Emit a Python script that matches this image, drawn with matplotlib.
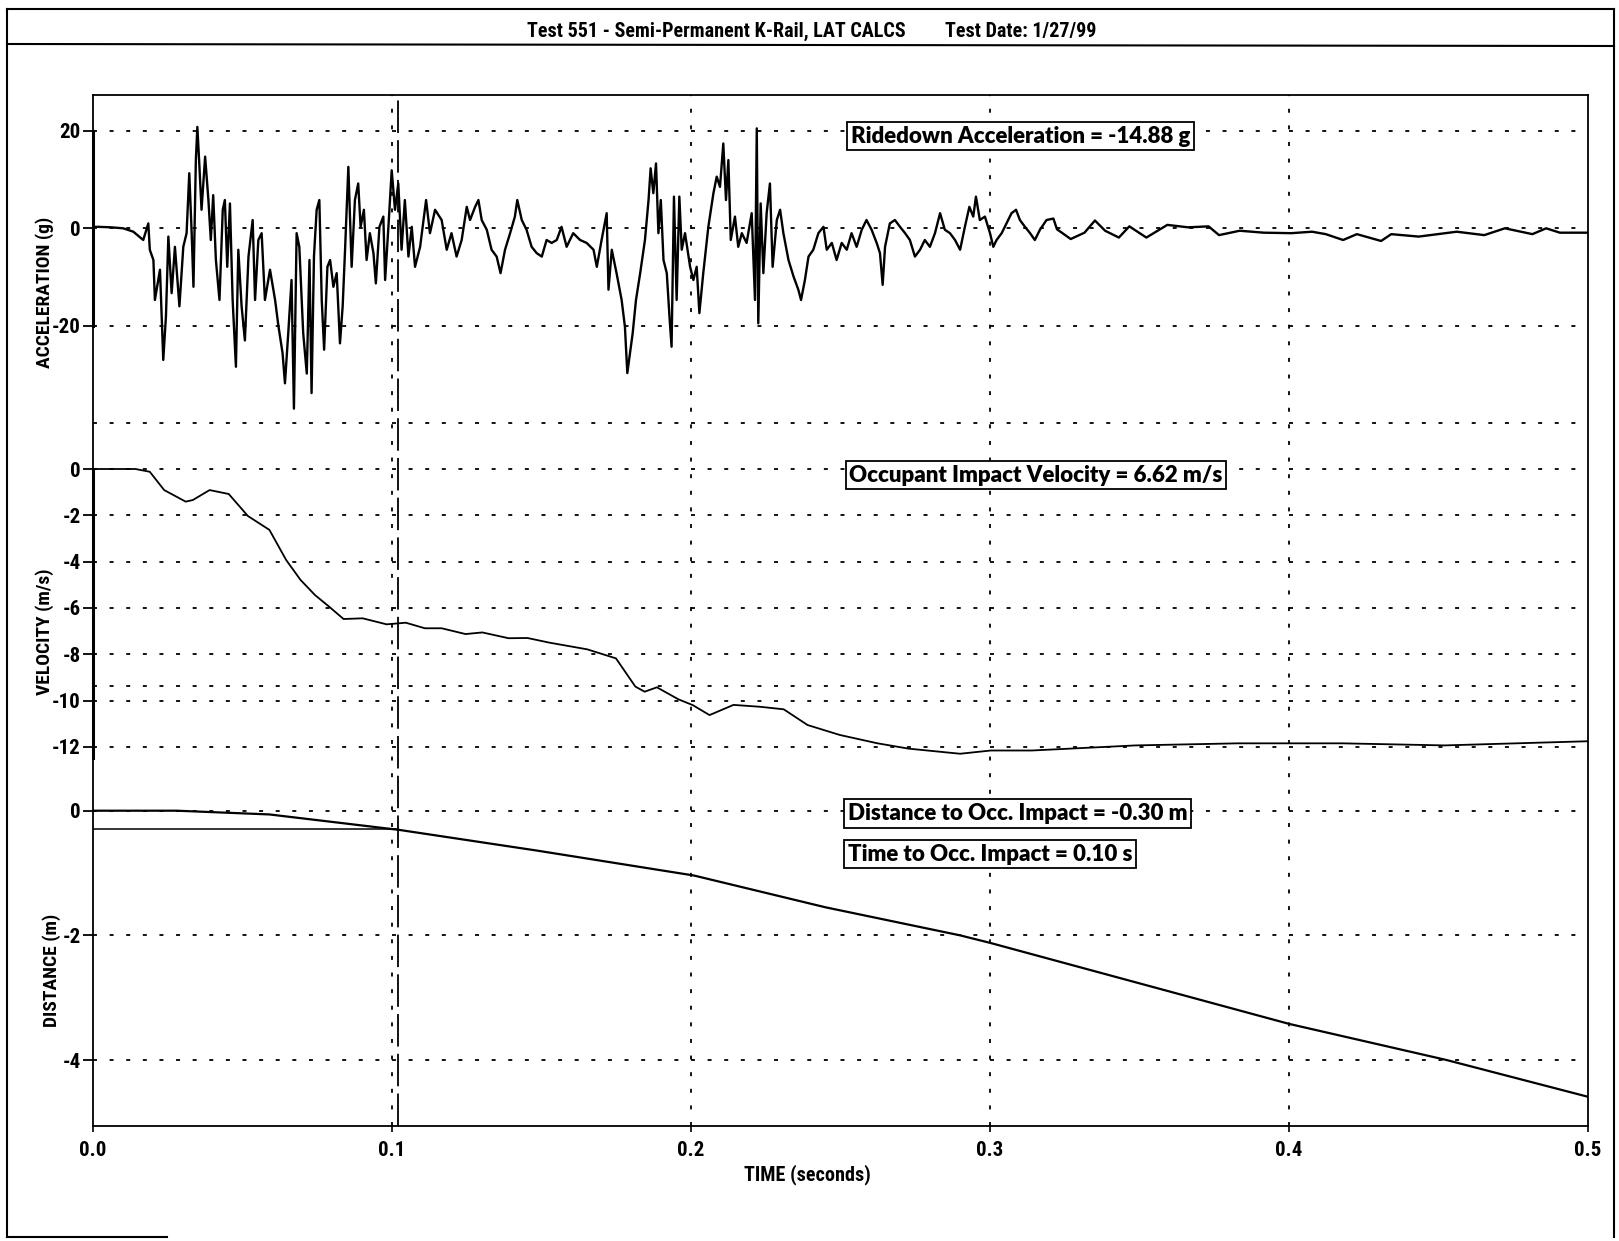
import numpy as np
import matplotlib

matplotlib.use("Agg")
import matplotlib.pyplot as plt

plt.rcParams["font.family"] = ["Liberation Sans Narrow", "Roboto Condensed", "DejaVu Sans"]
plt.rcParams["font.stretch"] = "condensed"
plt.rcParams["font.weight"] = "bold"

# --- data ---
accel_t = [0.0000, 0.0018, 0.0060, 0.0101, 0.0135, 0.0168, 0.0185, 0.0190, 0.0202, 0.0207,
           0.0224, 0.0235, 0.0244, 0.0252, 0.0263, 0.0274, 0.0289, 0.0302, 0.0313, 0.0322,
           0.0330, 0.0336, 0.0344, 0.0349, 0.0356, 0.0363, 0.0375, 0.0386, 0.0394, 0.0402,
           0.0411, 0.0423, 0.0434, 0.0441, 0.0449, 0.0458, 0.0467, 0.0478, 0.0486, 0.0497,
           0.0508, 0.0520, 0.0534, 0.0542, 0.0553, 0.0564, 0.0575, 0.0592, 0.0609, 0.0620,
           0.0634, 0.0642, 0.0653, 0.0664, 0.0672, 0.0681, 0.0690, 0.0703, 0.0715, 0.0724,
           0.0731, 0.0739, 0.0748, 0.0757, 0.0765, 0.0773, 0.0784, 0.0793, 0.0804, 0.0815,
           0.0826, 0.0835, 0.0843, 0.0854, 0.0865, 0.0876, 0.0887, 0.0895, 0.0906, 0.0915,
           0.0926, 0.0938, 0.0946, 0.0958, 0.0971, 0.0977, 0.0988, 0.0999, 0.1010, 0.1021,
           0.1032, 0.1043, 0.1055, 0.1066, 0.1077, 0.1094, 0.1114, 0.1127, 0.1144, 0.1166,
           0.1183, 0.1199, 0.1216, 0.1233, 0.1250, 0.1261, 0.1278, 0.1289, 0.1300, 0.1317,
           0.1333, 0.1350, 0.1363, 0.1378, 0.1395, 0.1411, 0.1419, 0.1434, 0.1450, 0.1467,
           0.1484, 0.1501, 0.1517, 0.1534, 0.1551, 0.1567, 0.1584, 0.1606, 0.1629, 0.1651,
           0.1674, 0.1685, 0.1701, 0.1718, 0.1724, 0.1735, 0.1751, 0.1768, 0.1779, 0.1787,
           0.1796, 0.1805, 0.1816, 0.1830, 0.1846, 0.1858, 0.1865, 0.1874, 0.1883, 0.1891,
           0.1899, 0.1908, 0.1919, 0.1928, 0.1935, 0.1943, 0.1952, 0.1961, 0.1969, 0.1980,
           0.1997, 0.2008, 0.2019, 0.2028, 0.2041, 0.2058, 0.2075, 0.2086, 0.2097, 0.2108,
           0.2117, 0.2125, 0.2133, 0.2147, 0.2158, 0.2170, 0.2186, 0.2203, 0.2214, 0.2220,
           0.2225, 0.2233, 0.2242, 0.2253, 0.2264, 0.2273, 0.2287, 0.2298, 0.2309, 0.2326,
           0.2343, 0.2359, 0.2368, 0.2381, 0.2393, 0.2409, 0.2426, 0.2443, 0.2454, 0.2471,
           0.2487, 0.2504, 0.2521, 0.2537, 0.2554, 0.2571, 0.2587, 0.2604, 0.2621, 0.2632,
           0.2641, 0.2649, 0.2665, 0.2682, 0.2699, 0.2716, 0.2732, 0.2749, 0.2766, 0.2782,
           0.2799, 0.2816, 0.2833, 0.2849, 0.2866, 0.2883, 0.2900, 0.2916, 0.2931, 0.2944,
           0.2953, 0.2966, 0.2983, 0.3000, 0.3011, 0.3022, 0.3039, 0.3055, 0.3072, 0.3087,
           0.3100, 0.3117, 0.3134, 0.3150, 0.3167, 0.3189, 0.3212, 0.3224, 0.3270, 0.3316,
           0.3351, 0.3385, 0.3431, 0.3466, 0.3523, 0.3593, 0.3662, 0.3731, 0.3766, 0.3835,
           0.3916, 0.4008, 0.4077, 0.4123, 0.4181, 0.4227, 0.4308, 0.4342, 0.4434, 0.4561,
           0.4653, 0.4722, 0.4814, 0.4860, 0.4906, 0.5000]
accel_g = [0.3, 0.3, 0.2, 0.0, -0.7, -2.4, 1.0, -4.4, -6.5, -14.7,
           -8.5, -27.0, -18.0, -1.7, -13.3, -3.8, -16.0, -3.8, -1.0, 11.3,
           -1.0, -12.0, 14.0, 20.8, 12.6, 3.8, 14.7, 5.8, -2.4, 6.8,
           -6.5, -14.7, 3.8, 5.8, -7.9, 5.1, -14.7, -28.4, -4.4, -16.0,
           -23.0, -5.8, 1.7, -14.7, -2.4, -1.0, -14.7, -8.5, -14.7, -20.0,
           -25.6, -31.8, -21.5, -10.6, -37.0, -1.0, -3.8, -21.5, -29.8, -6.5,
           -33.8, -5.8, 3.8, 5.8, -14.7, -24.9, -7.9, -6.5, -12.0, -9.2,
           -23.6, -16.0, -4.4, 12.6, -7.9, 5.8, 9.2, 0.3, 3.8, -6.5,
           -1.0, -5.1, -11.3, 0.3, 2.4, -10.6, 0.3, 11.9, 3.8, 9.2,
           -4.4, 5.8, -5.8, 0.3, -7.9, -3.8, 5.8, -1.0, 3.8, 1.7,
           -4.4, -1.0, -5.8, -2.4, 4.4, 1.7, 4.4, 5.8, 1.7, -0.3,
           -4.4, -5.8, -9.2, -4.4, -1.0, 2.4, 5.8, 1.7, -0.3, -3.8,
           -5.1, -5.8, -2.4, -3.0, -2.4, 0.3, -3.8, -1.0, -2.4, -3.0,
           -4.4, -7.9, -2.4, 3.1, -12.6, -4.4, -9.2, -14.7, -20.2, -29.7,
           -25.6, -21.5, -14.7, -9.2, -2.4, 5.8, 12.3, 7.2, 13.3, -1.0,
           5.8, -6.5, -9.2, -18.1, -24.3, 6.5, -14.7, 6.5, -4.4, -1.0,
           -7.9, -10.6, -7.9, -17.4, -9.2, 0.3, 7.2, 10.6, 8.5, 17.4,
           5.8, 14.0, -2.4, 2.4, -3.8, -1.0, -3.0, 3.1, -14.7, 20.5,
           -19.5, 5.1, -9.2, 3.1, 9.2, -7.9, 1.7, 3.8, -1.0, -6.5,
           -9.9, -12.6, -14.7, -10.6, -5.8, -4.4, -1.0, 0.3, -4.4, -3.0,
           -6.5, -3.0, -4.4, -1.0, -3.8, -0.3, 1.7, -0.3, -3.0, -5.1,
           -11.6, -3.8, 1.0, 1.7, 0.3, -1.0, -2.4, -5.8, -4.4, -2.4,
           -3.8, -1.0, 3.1, -0.3, -1.0, -2.4, -4.4, 0.3, 4.4, 2.4,
           6.5, 1.7, 2.4, -1.0, -3.8, -2.4, -1.0, 1.0, 3.1, 3.8,
           1.7, 0.3, -1.0, -2.4, -0.3, 1.7, 2.0, -0.2, -2.2, -0.9,
           1.6, -0.5, -1.9, 0.4, -1.9, 0.7, 0.2, 0.4, -1.4, -0.5,
           -0.9, -1.0, -0.7, -1.2, -2.4, -1.2, -2.6, -1.2, -1.7, -0.7,
           -1.4, 0.0, -1.2, 0.0, -0.9, -0.9]

vel_t = [0.0, 0.0142, 0.019, 0.0238, 0.031, 0.0334, 0.039, 0.0454, 0.0518, 0.059,
         0.0646, 0.0694, 0.0742, 0.079, 0.0838, 0.0902, 0.0982, 0.1046, 0.111, 0.1166,
         0.1246, 0.1302, 0.139, 0.1453, 0.1526, 0.1653, 0.1749, 0.1814, 0.1845, 0.1886,
         0.1958, 0.2006, 0.2062, 0.2142, 0.223, 0.231, 0.239, 0.2498, 0.2624, 0.2728,
         0.29, 0.3003, 0.314, 0.3487, 0.383, 0.4178, 0.452, 0.5]
vel_ms = [0.0, 0.0, -0.12, -0.91, -1.41, -1.34, -0.91, -1.08, -2.03, -2.63,
          -3.93, -4.79, -5.44, -5.95, -6.48, -6.45, -6.71, -6.64, -6.88, -6.88,
          -7.13, -7.06, -7.31, -7.30, -7.50, -7.79, -8.18, -9.40, -9.62, -9.43,
          -9.95, -10.20, -10.63, -10.19, -10.27, -10.38, -11.06, -11.49, -11.85, -12.08,
          -12.30, -12.16, -12.16, -11.94, -11.85, -11.85, -11.94, -11.76]

dist_t = [0.0, 0.028, 0.059, 0.080, 0.1027, 0.136, 0.1485, 0.201, 0.245, 0.29,
          0.3, 0.40, 0.4527, 0.5]
dist_m = [0.0, 0.0, -0.06, -0.18, -0.31, -0.55, -0.64, -1.04, -1.55, -2.0,
          -2.12, -3.42, -4.0, -4.59]

x_ticks = [0.0, 0.1, 0.2, 0.3, 0.4, 0.5]
accel_ticks = [20, 0, -20]
accel_grid = [20, 0, -20, -40]
vel_ticks = [0, -2, -4, -6, -8, -10, -12]
dist_ticks = [0, -2, -4]
dist_grid = [2, 0, -2, -4]

impact_time = 0.102
impact_dist = -0.30

title_left = "Test 551 - Semi-Permanent K-Rail, LAT CALCS"
title_right = "Test Date: 1/27/99"
notes_accel = "Ridedown Acceleration = -14.88 g"
notes_vel = "Occupant Impact Velocity = 6.62 m/s"
notes_dist = "Distance to Occ. Impact = -0.30 m"
notes_time = "Time to Occ. Impact = 0.10 s"

# --- figure, pixel layout from the scan (1619 x 1241) ---
W, H = 1619, 1241
fig = plt.figure(figsize=(W / 100, H / 100), dpi=100)
x0, x1, y0, y1 = 93, 1588, 95, 1126
rect = [x0 / W, 1 - y1 / H, (x1 - x0) / W, (y1 - y0) / H]

ax_d = fig.add_axes(rect)
ax_v = fig.add_axes(rect, sharex=ax_d)
ax_a = fig.add_axes(rect, sharex=ax_d)
for ax in (ax_v, ax_a):
    ax.patch.set_visible(False)
    for s in ax.spines.values():
        s.set_visible(False)
    ax.tick_params(axis="x", bottom=False, labelbottom=False)


# each panel: pixel row of value 0 and pixels per unit
def lims(zero_px, px_per_unit):
    return ((zero_px - y1) / px_per_unit, (zero_px - y0) / px_per_unit)


ax_a.set_ylim(*lims(228.3, 4.875))
ax_v.set_ylim(*lims(469.0, 23.15))
ax_d.set_ylim(*lims(810.7, 62.33))
ax_d.set_xlim(0, 0.5)

grid_kw = dict(color="black", lw=1.3, ls=(0, (2.2, 7)), zorder=1)
for g in accel_grid:
    ax_a.axhline(g, **grid_kw)
for g in vel_ticks:
    ax_v.axhline(g, **grid_kw)
for g in dist_grid:
    ax_d.axhline(g, **grid_kw)
for xv in x_ticks[1:-1]:
    ax_d.axvline(xv, **grid_kw)
ax_d.axvline(impact_time, color="black", lw=1.3, ls=(0, (18, 4)), zorder=1)

# thicker y-axis segments over the labelled ranges
ax_a.plot([0, 0], [20, -20], color="black", lw=2.2, clip_on=False, zorder=3)
ax_v.plot([0, 0], [0, -12.5], color="black", lw=2.2, clip_on=False, zorder=3)

ax_a.plot(accel_t, accel_g, color="black", lw=1.7, zorder=2)
ax_v.plot(vel_t, vel_ms, color="black", lw=1.3, zorder=2)
ax_d.plot(dist_t, dist_m, color="black", lw=1.6, zorder=2)
ax_d.plot([0, impact_time], [impact_dist, impact_dist], color="black", lw=1.1, zorder=2)

tick_kw = dict(direction="out", length=7, width=1.3, labelsize=15, pad=2)
ax_a.set_yticks(accel_ticks)
ax_a.set_yticklabels([f"{v:g}" for v in accel_ticks])
ax_v.set_yticks(vel_ticks)
ax_v.set_yticklabels([f"{v:g}" for v in vel_ticks])
ax_d.set_yticks(dist_ticks)
ax_d.set_yticklabels([f"{v:g}" for v in dist_ticks])
for ax in (ax_a, ax_v, ax_d):
    ax.tick_params(axis="y", **tick_kw)
ax_d.set_xticks(x_ticks)
ax_d.set_xticklabels([f"{v:.1f}" for v in x_ticks])
ax_d.tick_params(axis="x", direction="out", length=4, width=1.2, labelsize=15, pad=7)
for s in ax_d.spines.values():
    s.set_linewidth(1.3)

box = dict(boxstyle="square,pad=0.16", fc="white", ec="black", lw=1.3)
note_kw = dict(family=["Lato", "DejaVu Sans"], fontstretch="normal", fontsize=16,
               fontweight="heavy", ha="left", va="center", bbox=box, zorder=5)
ax_a.text(0.2535, 18.9, notes_accel, **note_kw)
ax_v.text(0.2530, -0.26, notes_vel, **note_kw)
ax_d.text(0.2525, -0.045, notes_dist, **note_kw)
ax_d.text(0.2525, -0.695, notes_time, **note_kw)

# axis titles
fig.text(45 / W, 1 - 292 / H, "ACCELERATION (g)", rotation=90, ha="center", va="center", fontsize=14)
fig.text(45 / W, 1 - 632 / H, "VELOCITY (m/s)", rotation=90, ha="center", va="center", fontsize=14)
fig.text(52 / W, 1 - 970 / H, "DISTANCE (m)", rotation=90, ha="center", va="center", fontsize=14)
fig.text(807 / W, 1 - 1175 / H, "TIME (seconds)", ha="center", va="center", fontsize=14.5)

fig.text(527 / W, 1 - 31 / H, title_left, ha="left", va="center", fontsize=14.5)
fig.text(945 / W, 1 - 31 / H, title_right, ha="left", va="center", fontsize=14.5)

# report frame
frame_kw = dict(color="black", lw=1.5, transform=fig.transFigure)
fig.add_artist(plt.Line2D([7 / W, 1614 / W], [1 - 9 / H, 1 - 9 / H], **frame_kw))
fig.add_artist(plt.Line2D([7 / W, 1614 / W], [1 - 44 / H, 1 - 46 / H], **frame_kw))
fig.add_artist(plt.Line2D([7 / W, 7 / W], [1 - 9 / H, 1 - 1237 / H], **frame_kw))
fig.add_artist(plt.Line2D([1614 / W, 1614 / W], [1 - 9 / H, 1 - 1237 / H], **frame_kw))
fig.add_artist(plt.Line2D([7 / W, 167 / W], [1 - 1237 / H, 1 - 1237 / H], **frame_kw))

fig.savefig("out.png", dpi=100)
plt.close(fig)
